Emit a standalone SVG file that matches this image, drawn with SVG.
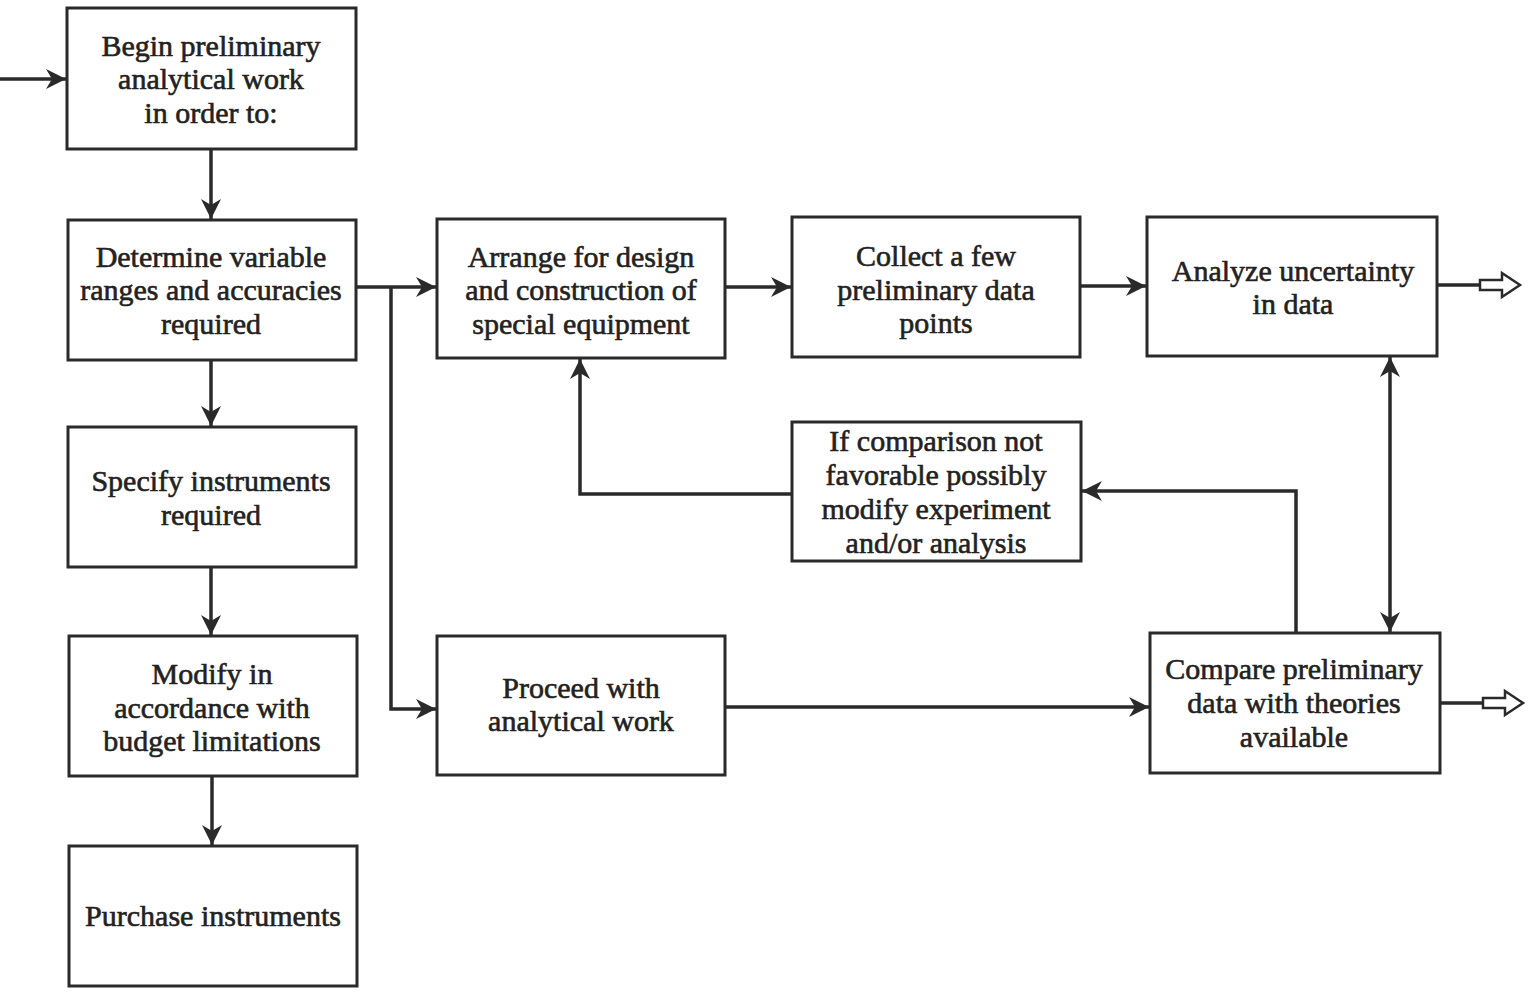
<svg xmlns="http://www.w3.org/2000/svg" width="1533" height="995" viewBox="0 0 1533 995">
<defs>
<style>
.box{fill:#fff;stroke:#2a2a2a;stroke-width:3}
.t{font-family:"Liberation Serif","Times New Roman",serif;font-size:30px;fill:#222;stroke:#222;stroke-width:0.6;text-anchor:middle}
.c{fill:none;stroke:#2a2a2a;stroke-width:3.5}
.hollow{fill:#fff;stroke:#2a2a2a;stroke-width:2.5;stroke-linejoin:miter}
</style>
<marker id="ahb" viewBox="0 0 10 10" refX="10" refY="5" markerWidth="24" markerHeight="20" markerUnits="userSpaceOnUse" orient="auto-start-reverse">
<path d="M0,0 L10,5 L0,10 L3,5 Z" fill="#2a2a2a"/>
</marker>
</defs>
<rect width="1533" height="995" fill="#fff"/>

<g id="connectors">
<line class="c" x1="0" y1="79" x2="66" y2="79" marker-end="url(#ahb)"/>
<line class="c" x1="211" y1="149" x2="211" y2="219" marker-end="url(#ahb)"/>
<line class="c" x1="211" y1="360" x2="211" y2="426" marker-end="url(#ahb)"/>
<line class="c" x1="211" y1="567" x2="211" y2="635" marker-end="url(#ahb)"/>
<line class="c" x1="212" y1="776" x2="212" y2="845" marker-end="url(#ahb)"/>
<line class="c" x1="356" y1="287" x2="436" y2="287" marker-end="url(#ahb)"/>
<polyline class="c" points="391,287 391,709 436,709" marker-end="url(#ahb)"/>
<line class="c" x1="725" y1="287" x2="791" y2="287" marker-end="url(#ahb)"/>
<line class="c" x1="1080" y1="286" x2="1146" y2="286" marker-end="url(#ahb)"/>
<line class="c" x1="1390" y1="357" x2="1390" y2="632" marker-start="url(#ahb)" marker-end="url(#ahb)"/>
<polyline class="c" points="1296,633 1296,491 1082,491" marker-end="url(#ahb)"/>
<polyline class="c" points="792,494 580,494 580,359" marker-end="url(#ahb)"/>
<line class="c" x1="725" y1="707" x2="1149" y2="707" marker-end="url(#ahb)"/>
<line class="c" x1="1437" y1="285" x2="1480" y2="285"/>
<polygon class="hollow" points="1480,280 1502,280 1502,273 1520,285 1502,297 1502,290 1480,290"/>
<line class="c" x1="1440" y1="703" x2="1483" y2="703"/>
<polygon class="hollow" points="1483,698 1505,698 1505,691 1523,703 1505,715 1505,708 1483,708"/>
</g>

<g id="n1"><rect class="box" x="67" y="8" width="289" height="141"/>
<text class="t" x="211" y="56">Begin preliminary</text><text class="t" x="211" y="89">analytical work</text><text class="t" x="211" y="123">in order to:</text></g>

<g id="n2"><rect class="box" x="68" y="220" width="288" height="140"/>
<text class="t" x="211" y="267">Determine variable</text><text class="t" x="211" y="300">ranges and accuracies</text><text class="t" x="211" y="334">required</text></g>

<g id="n3"><rect class="box" x="68" y="427" width="288" height="140"/>
<text class="t" x="211" y="491">Specify instruments</text><text class="t" x="211" y="525">required</text></g>

<g id="n4"><rect class="box" x="69" y="636" width="288" height="140"/>
<text class="t" x="212" y="684">Modify in</text><text class="t" x="212" y="718">accordance with</text><text class="t" x="212" y="751">budget limitations</text></g>

<g id="n5"><rect class="box" x="69" y="846" width="288" height="140"/>
<text class="t" x="213" y="926">Purchase instruments</text></g>

<g id="n6"><rect class="box" x="437" y="219" width="288" height="139"/>
<text class="t" x="581" y="267">Arrange for design</text><text class="t" x="581" y="300">and construction of</text><text class="t" x="581" y="334">special equipment</text></g>

<g id="n7"><rect class="box" x="792" y="217" width="288" height="140"/>
<text class="t" x="936" y="266">Collect a few</text><text class="t" x="936" y="300">preliminary data</text><text class="t" x="936" y="333">points</text></g>

<g id="n8"><rect class="box" x="1147" y="217" width="290" height="139"/>
<text class="t" x="1293" y="281">Analyze uncertainty</text><text class="t" x="1293" y="314">in data</text></g>

<g id="n9"><rect class="box" x="792" y="422" width="289" height="139"/>
<text class="t" x="936" y="451">If comparison not</text><text class="t" x="936" y="485">favorable possibly</text><text class="t" x="936" y="519">modify experiment</text><text class="t" x="936" y="553">and/or analysis</text></g>

<g id="n10"><rect class="box" x="437" y="636" width="288" height="139"/>
<text class="t" x="581" y="698">Proceed with</text><text class="t" x="581" y="731">analytical work</text></g>

<g id="n11"><rect class="box" x="1150" y="633" width="290" height="140"/>
<text class="t" x="1294" y="679">Compare preliminary</text><text class="t" x="1294" y="713">data with theories</text><text class="t" x="1294" y="747">available</text></g>
</svg>
